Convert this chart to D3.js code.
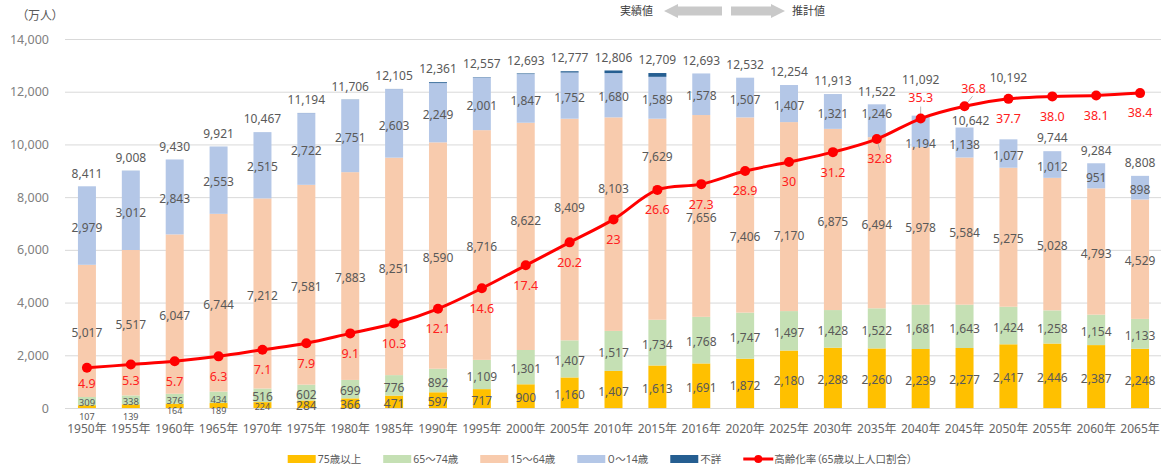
<!DOCTYPE html>
<html>
<head>
<meta charset="utf-8">
<script src="https://cdn.jsdelivr.net/npm/d3@7"></script>
<style>
  body { margin: 0; background: #fff; }
  svg text { font-family: "Noto Sans", "Noto Sans CJK JP", sans-serif; font-feature-settings: "palt"; }
</style>
</head>
<body>
<div id="chart"></div>
<script>
// categories
const years = ["1950年","1955年","1960年","1965年","1970年","1975年","1980年","1985年","1990年","1995年","2000年","2005年","2010年","2015年","2016年","2020年","2025年","2030年","2035年","2040年","2045年","2050年","2055年","2060年","2065年"];

// population by age group (万人)
const age75plus = [107,139,164,189,224,284,366,471,597,717,900,1160,1407,1613,1691,1872,2180,2288,2260,2239,2277,2417,2446,2387,2248];
const age65to74 = [309,338,376,434,516,602,699,776,892,1109,1301,1407,1517,1734,1768,1747,1497,1428,1522,1681,1643,1424,1258,1154,1133];
const age15to64 = [5017,5517,6047,6744,7212,7581,7883,8251,8590,8716,8622,8409,8103,7629,7656,7406,7170,6875,6494,5978,5584,5275,5028,4793,4529];
const age0to14 = [2979,3012,2843,2553,2515,2722,2751,2603,2249,2001,1847,1752,1680,1589,1578,1507,1407,1321,1246,1194,1138,1077,1012,951,898];
const unknownAge = [0,2,0,1,0,5,7,4,33,14,23,49,99,144,0,0,0,0,0,0,0,0,0,0,0];
const totals = [8411,9008,9430,9921,10467,11194,11706,12105,12361,12557,12693,12777,12806,12709,12693,12532,12254,11913,11522,11092,10642,10192,9744,9284,8808];

// aging rate (%), kept as text so "30" and "38.0" print like the original
const agingRate = ["4.9","5.3","5.7","6.3","7.1","7.9","9.1","10.3","12.1","14.6","17.4","20.2","23","26.6","27.3","28.9","30","31.2","32.8","35.3","36.8","37.7","38.0","38.1","38.4"];

const yTicks = [0,2000,4000,6000,8000,10000,12000,14000];

const width = 1161, height = 467;
const plotLeft = 65, plotRight = 1162, plotTop = 39, plotBottom = 408;

const svg = d3.select("#chart")
  .append("svg")
    .attr("width", width)
    .attr("height", height);

const keys = ["a75", "a65", "a15", "a0", "unk"];
const colors = { a75: "#FFC000", a65: "#C5E0B4", a15: "#F8CBAD", a0: "#B4C7E7", unk: "#255E91" };
const labelGray = "#595959";

const rows = years.map((y, i) => ({
  year: y, a75: age75plus[i], a65: age65to74[i], a15: age15to64[i], a0: age0to14[i], unk: unknownAge[i]
}));

const x = d3.scaleBand()
  .domain(years)
  .range([plotLeft, plotRight])
  .paddingInner(0.59)
  .paddingOuter(0.295);

const y = d3.scaleLinear().domain([0, 14000]).range([plotBottom, plotTop]);
// hidden secondary axis for the rate line
const y2 = d3.scaleLinear().domain([0, 45]).range([plotBottom, plotTop]);

// gridlines
svg.append("g")
  .attr("transform", `translate(${plotLeft},0)`)
  .call(d3.axisLeft(y).tickValues(yTicks).tickSize(-(plotRight - plotLeft)).tickFormat(""))
  .call(g => g.select(".domain").remove())
  .call(g => g.selectAll("line").attr("stroke", "#d9d9d9"));

// y tick labels
svg.append("g")
  .attr("transform", `translate(49,0)`)
  .call(d3.axisLeft(y).tickValues(yTicks).tickSize(0).tickPadding(0).tickFormat(d3.format(",")))
  .call(g => g.select(".domain").remove())
  .call(g => g.selectAll("text").attr("fill", "#808080").style("font-size", "12.5px"));

// x labels
svg.append("g")
  .attr("transform", `translate(0,${plotBottom})`)
  .call(d3.axisBottom(x).tickSize(0).tickPadding(16))
  .call(g => g.select(".domain").remove())
  .call(g => g.selectAll("text").attr("fill", "#666").style("font-size", "12px"));

// stacked bars
const stacked = d3.stack().keys(keys)(rows);
svg.append("g")
  .selectAll("g")
  .data(stacked)
  .join("g")
    .attr("fill", d => colors[d.key])
  .selectAll("rect")
  .data(d => d)
  .join("rect")
    .attr("x", d => x(d.data.year))
    .attr("y", d => y(d[1]))
    .attr("width", x.bandwidth())
    .attr("height", d => y(d[0]) - y(d[1]));

// manual nudges (px) for labels that were dragged off the line in the original
const midNudge = { "2000年": -18, "2005年": -24, "2010年": -37, "2015年": -64, "2020年": 20, "2025年": 17 };
const youngNudge = { "2035年": -9, "2040年": 10 };
const totalNudge = { "2040年": -23, "2045年": 6, "2050年": -49 };
const totalShiftX = { "2045年": 6 };

const fmt = d3.format(",");
const labels = svg.append("g").attr("fill", labelGray).attr("text-anchor", "middle");

stacked.forEach(layer => {
  if (layer.key === "unk") return;
  layer.forEach((d, i) => {
    const yr = d.data.year;
    const v = d.data[layer.key];
    let cy = y((d[0] + d[1]) / 2) + 2;
    let size = 12;
    if (layer.key === "a75") {
      if (i <= 4) size = 9;
      if (v < 150) cy = plotBottom + 9;
      else if (v < 200) cy = plotBottom + 3;
    }
    if (layer.key === "a65" && i <= 3) size = 9.5;
    if (layer.key === "a15") cy += (midNudge[yr] || 0);
    if (layer.key === "a0") cy += (youngNudge[yr] || 0);
    labels.append("text")
      .attr("x", x(yr) + x.bandwidth() / 2)
      .attr("y", cy)
      .attr("dy", "0.35em")
      .style("font-size", size + "px")
      .text(fmt(v));
  });
});

// totals above the bars
svg.append("g")
  .selectAll("text")
  .data(years)
  .join("text")
    .attr("text-anchor", "middle")
    .attr("fill", labelGray)
    .style("font-size", "12px")
    .attr("x", (d, i) => x(d) + x.bandwidth() / 2 + (totalShiftX[d] || 0))
    .attr("y", (d, i) => y(totals[i]) - 13 + (totalNudge[d] || 0))
    .attr("dy", "0.35em")
    .text((d, i) => fmt(totals[i]));

// aging-rate line
const cx = d => x(d) + x.bandwidth() / 2;
const line = d3.line()
  .x(d => cx(d.year))
  .y(d => y2(+d.rate))
  .curve(d3.curveCatmullRom);
const ratePts = years.map((yr, i) => ({ year: yr, rate: agingRate[i] }));

// little leader lines from the original
const leaders = { "2035年": [3, 11], "2040年": [0, -12], "2045年": [8, -10] };
svg.append("g")
  .selectAll("line")
  .data(ratePts.filter(d => leaders[d.year]))
  .join("line")
    .attr("x1", d => cx(d.year))
    .attr("y1", d => y2(+d.rate))
    .attr("x2", d => cx(d.year) + leaders[d.year][0])
    .attr("y2", d => y2(+d.rate) + leaders[d.year][1])
    .attr("stroke", "#a6a6a6")
    .attr("stroke-width", 0.8);

svg.append("path")
  .datum(ratePts)
  .attr("fill", "none")
  .attr("stroke", "#FF0000")
  .attr("stroke-width", 3)
  .attr("d", line);

svg.append("g")
  .selectAll("circle")
  .data(ratePts)
  .join("circle")
    .attr("cx", d => cx(d.year))
    .attr("cy", d => y2(+d.rate))
    .attr("r", 5)
    .attr("fill", "#FF0000");

// rate labels: mostly under the point, two go above
const rateAbove = { "2040年": -21, "2045年": -18 };
const rateShiftX = { "2035年": 3, "2045年": 9 };
svg.append("g")
  .selectAll("text")
  .data(ratePts)
  .join("text")
    .attr("text-anchor", "middle")
    .attr("fill", "#FF2020")
    .style("font-size", "12.5px")
    .attr("x", d => cx(d.year) + (rateShiftX[d.year] || 0))
    .attr("y", (d, i) => y2(+d.rate) + (rateAbove[d.year] !== undefined ? rateAbove[d.year] : (i < 2 ? 16 : 20)))
    .attr("dy", "0.35em")
    .text(d => d.rate);

// unit label
svg.append("text")
  .attr("x", 22)
  .attr("y", 16)
  .attr("dy", "0.35em")
  .attr("fill", labelGray)
  .style("font-size", "12px")
  .text("（万人）");

// actual / projected arrows at the top
const arrowColor = "#c9c9c9";
svg.append("path")
  .attr("d", "M664,11 L678,4 L678,6.5 L722,6.5 L722,15.5 L678,15.5 L678,18 Z")
  .attr("fill", arrowColor);
svg.append("path")
  .attr("d", "M785,11 L771,4 L771,6.5 L731,6.5 L731,15.5 L771,15.5 L771,18 Z")
  .attr("fill", arrowColor);
svg.append("text")
  .attr("x", 653).attr("y", 11).attr("dy", "0.35em")
  .attr("text-anchor", "end")
  .attr("fill", "#404040")
  .style("font-size", "11px")
  .text("実績値");
svg.append("text")
  .attr("x", 792).attr("y", 11).attr("dy", "0.35em")
  .attr("fill", "#404040")
  .style("font-size", "11px")
  .text("推計値");

// legend
const legendItems = [
  { name: "75歳以上", key: "a75" },
  { name: "65～74歳", key: "a65" },
  { name: "15～64歳", key: "a15" },
  { name: "０～14歳", key: "a0" },
  { name: "不詳", key: "unk" },
  { name: "高齢化率（65歳以上人口割合）", key: "rate" }
];
const legend = svg.append("g");
let lx = 0;
const legendY = 459;
const legendGap = 22;
legendItems.forEach(item => {
  const g = legend.append("g").attr("transform", `translate(${lx},0)`);
  if (item.key === "rate") {
    g.append("line").attr("x1", 0).attr("x2", 30).attr("y1", legendY).attr("y2", legendY)
      .attr("stroke", "#FF0000").attr("stroke-width", 3);
    g.append("circle").attr("cx", 15).attr("cy", legendY).attr("r", 4).attr("fill", "#FF0000");
  } else {
    g.append("rect").attr("x", 0).attr("y", legendY - 4).attr("width", 28).attr("height", 8)
      .attr("fill", colors[item.key]);
  }
  const t = g.append("text")
    .attr("x", item.key === "rate" ? 31 : 30)
    .attr("y", legendY)
    .attr("dy", "0.35em")
    .attr("fill", labelGray)
    .style("font-size", "10.5px")
    .text(item.name);
  lx += (item.key === "rate" ? 31 : 30) + t.node().getComputedTextLength() + legendGap;
});
const legendW = lx - legendGap;
legend.attr("transform", `translate(${600 - legendW / 2},0)`);
</script>
</body>
</html>
